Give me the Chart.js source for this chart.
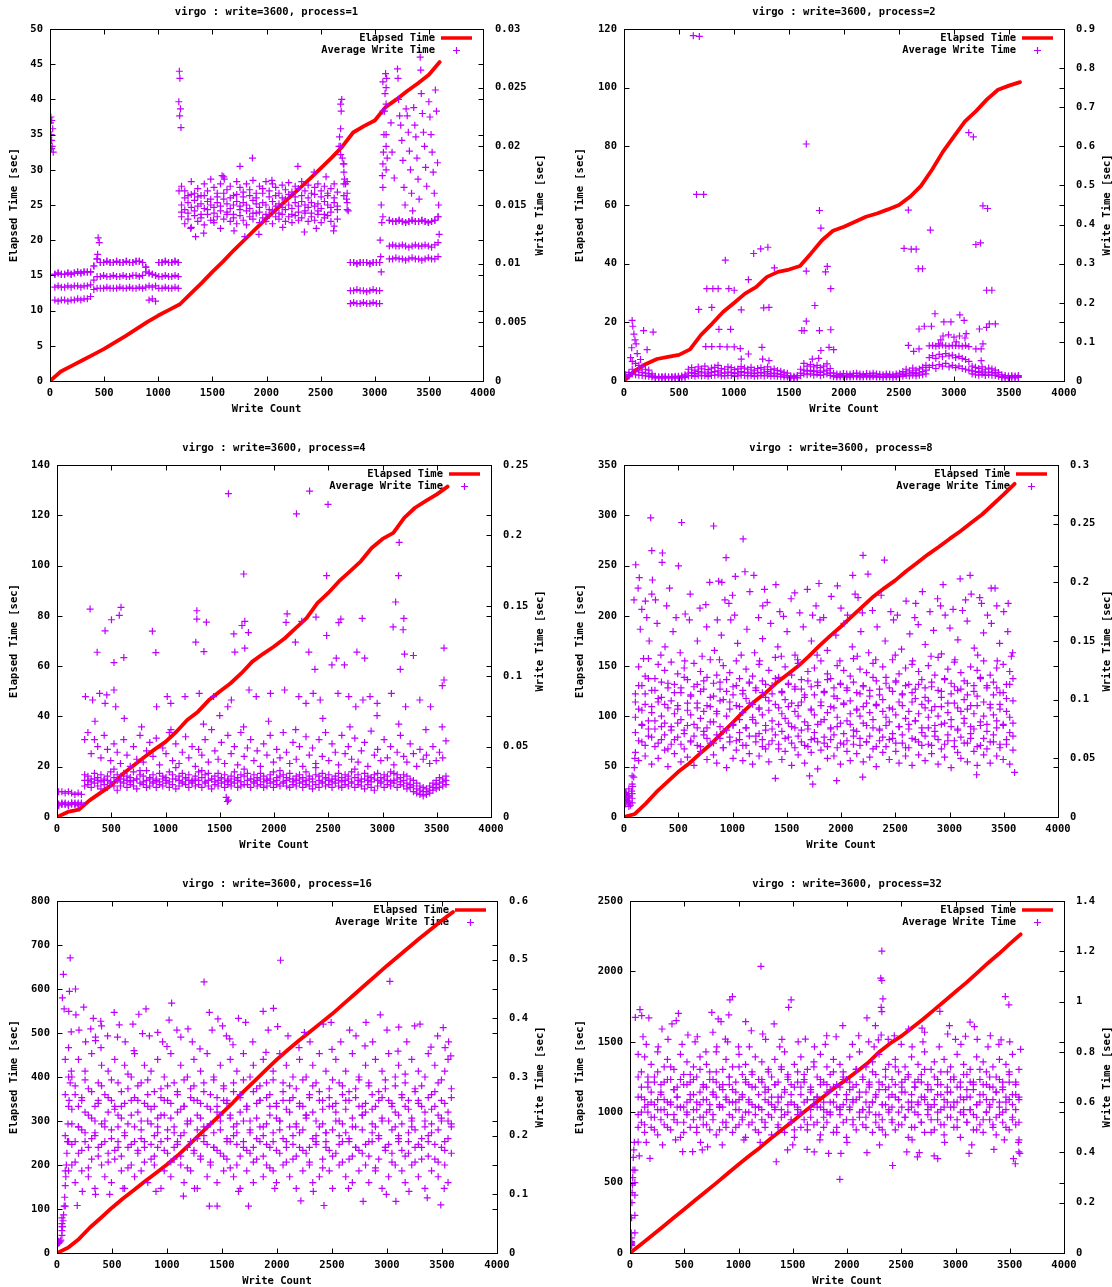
<!DOCTYPE html>
<html>
<head>
<meta charset="utf-8">
<title>virgo : write=3600</title>
<script src="https://cdn.jsdelivr.net/npm/chart.js@4.4.1/dist/chart.umd.min.js"></script>
<style>
  html, body { margin: 0; padding: 0; background: #fff; }
  #sheet { position: relative; width: 1112px; height: 1287px; overflow: hidden; background: #fff; }
  .panel { position: absolute; width: 556px; height: 436px; }
</style>
</head>
<body>
<div id="sheet">
  <div class="panel" style="left:0;top:-7px"><canvas id="chart1" width="556" height="436"></canvas></div>
  <div class="panel" style="left:556px;top:-7px"><canvas id="chart2" width="556" height="436"></canvas></div>
  <div class="panel" style="left:0;top:429px"><canvas id="chart3" width="556" height="436"></canvas></div>
  <div class="panel" style="left:556px;top:429px"><canvas id="chart4" width="556" height="436"></canvas></div>
  <div class="panel" style="left:0;top:865px"><canvas id="chart5" width="556" height="436"></canvas></div>
  <div class="panel" style="left:556px;top:865px"><canvas id="chart6" width="556" height="436"></canvas></div>
</div>
<script>
const elapsedCounts = [
  0, 100, 200, 300, 400, 500, 600, 700, 800, 900,
  1000, 1100, 1200, 1300, 1400, 1500, 1600, 1700, 1800, 1900,
  2000, 2100, 2200, 2300, 2400, 2500, 2600, 2700, 2800, 2900,
  3000, 3100, 3200, 3300, 3400, 3500, 3600,
];

// Write counts of the sampled write time points
const writeCounts = [
  15, 45, 75, 105, 135, 165, 195, 225, 255, 285,
  315, 345, 375, 405, 435, 465, 495, 525, 555, 585,
  615, 645, 675, 705, 735, 765, 795, 825, 855, 885,
  915, 945, 975, 1005, 1035, 1065, 1095, 1125, 1155, 1185,
  1215, 1245, 1275, 1305, 1335, 1365, 1395, 1425, 1455, 1485,
  1515, 1545, 1575, 1605, 1635, 1665, 1695, 1725, 1755, 1785,
  1815, 1845, 1875, 1905, 1935, 1965, 1995, 2025, 2055, 2085,
  2115, 2145, 2175, 2205, 2235, 2265, 2295, 2325, 2355, 2385,
  2415, 2445, 2475, 2505, 2535, 2565, 2595, 2625, 2655, 2685,
  2715, 2745, 2775, 2805, 2835, 2865, 2895, 2925, 2955, 2985,
  3015, 3045, 3075, 3105, 3135, 3165, 3195, 3225, 3255, 3285,
  3315, 3345, 3375, 3405, 3435, 3465, 3495, 3525, 3555, 3585,
];

// ---- process=1 ----
const p1Elapsed = [0, 1.35, 2.15, 2.95, 3.75, 4.56, 5.5, 6.4, 7.4, 8.4, 9.3, 10.1, 10.9, 12.4, 13.9, 15.5, 17.0, 18.6, 20.1, 21.6, 23.1, 24.5, 25.9, 27.3, 28.7, 30.2, 31.7, 33.3, 35.3, 36.2, 37.0, 38.9, 40.0, 41.2, 42.3, 43.5, 45.3];
const p1WriteA = [
  0.0222, 0.0091, 0.0092, 0.0091, 0.0091, 0.0092, 0.0091, 0.0092, 0.0093, 0.0092,
  0.0093, 0.0093, 0.0093, 0.0098, 0.0104, 0.0101, 0.0101, 0.0102, 0.0101, 0.0101,
  0.0102, 0.0101, 0.0101, 0.0102, 0.0101, 0.0101, 0.0102, 0.0102, 0.0101, 0.0097,
  0.0092, 0.0091, 0.0090, 0.0101, 0.0101, 0.0102, 0.0101, 0.0101, 0.0102, 0.0101,
  0.0166, 0.0162, 0.0158, 0.0170, 0.0160, 0.0164, 0.0158, 0.0168, 0.0162, 0.0172,
  0.0165, 0.0160, 0.0168, 0.0174, 0.0163, 0.0166, 0.0158, 0.0170, 0.0165, 0.0161,
  0.0168, 0.0163, 0.0171, 0.0160, 0.0166, 0.0164, 0.0170, 0.0162, 0.0168, 0.0165,
  0.0160, 0.0167, 0.0163, 0.0169, 0.0161, 0.0166, 0.0164, 0.0170, 0.0162, 0.0167,
  0.0160, 0.0165, 0.0168, 0.0162, 0.0166, 0.0160, 0.0164, 0.0168, 0.0161, 0.0236,
  0.0178, 0.0160, 0.0101, 0.0101, 0.0100, 0.0101, 0.0101, 0.0101, 0.0100, 0.0101,
  0.0101, 0.0101, 0.0255, 0.0236, 0.0137, 0.0136, 0.0136, 0.0137, 0.0136, 0.0135,
  0.0136, 0.0137, 0.0136, 0.0136, 0.0137, 0.0136, 0.0135, 0.0136, 0.0137, 0.0140,
];
const p1WriteB = [
  0.0205, 0.0080, 0.0081, 0.0080, 0.0080, 0.0081, 0.0080, 0.0081, 0.0081, 0.0080,
  0.0081, 0.0081, 0.0082, 0.0086, 0.0089, 0.0089, 0.0090, 0.0089, 0.0089, 0.0090,
  0.0089, 0.0089, 0.0090, 0.0089, 0.0089, 0.0090, 0.0090, 0.0089, 0.0090, 0.0093,
  0.0081, 0.0080, 0.0081, 0.0089, 0.0089, 0.0090, 0.0089, 0.0089, 0.0090, 0.0089,
  0.0150, 0.0146, 0.0152, 0.0148, 0.0154, 0.0149, 0.0151, 0.0147, 0.0153, 0.0150,
  0.0148, 0.0152, 0.0149, 0.0155, 0.0151, 0.0147, 0.0150, 0.0153, 0.0149, 0.0152,
  0.0150, 0.0147, 0.0154, 0.0151, 0.0148, 0.0152, 0.0150, 0.0146, 0.0153, 0.0149,
  0.0151, 0.0148, 0.0155, 0.0150, 0.0147, 0.0152, 0.0149, 0.0153, 0.0150, 0.0148,
  0.0152, 0.0149, 0.0151, 0.0147, 0.0153, 0.0150, 0.0148, 0.0152, 0.0149, 0.0200,
  0.0168, 0.0152, 0.0077, 0.0077, 0.0078, 0.0077, 0.0077, 0.0076, 0.0077, 0.0078,
  0.0077, 0.0077, 0.0185, 0.0210, 0.0115, 0.0116, 0.0115, 0.0115, 0.0116, 0.0115,
  0.0114, 0.0115, 0.0116, 0.0115, 0.0115, 0.0116, 0.0115, 0.0114, 0.0116, 0.0118,
];
const p1WriteC = [
  0.0198, 0.0069, 0.0068, 0.0069, 0.0069, 0.0068, 0.0069, 0.0069, 0.0070, 0.0069,
  0.0070, 0.0070, 0.0072, 0.0078, 0.0079, 0.0079, 0.0079, 0.0080, 0.0079, 0.0079,
  0.0079, 0.0080, 0.0079, 0.0079, 0.0080, 0.0079, 0.0079, 0.0080, 0.0079, 0.0080,
  0.0069, 0.0070, 0.0068, 0.0079, 0.0079, 0.0080, 0.0079, 0.0079, 0.0080, 0.0079,
  0.0140, 0.0134, 0.0138, 0.0131, 0.0141, 0.0136, 0.0139, 0.0133, 0.0142, 0.0137,
  0.0135, 0.0140, 0.0130, 0.0138, 0.0142, 0.0136, 0.0139, 0.0134, 0.0141, 0.0137,
  0.0133, 0.0140, 0.0138, 0.0143, 0.0135, 0.0139, 0.0136, 0.0141, 0.0134, 0.0140,
  0.0138, 0.0142, 0.0136, 0.0140, 0.0135, 0.0141, 0.0137, 0.0139, 0.0143, 0.0136,
  0.0140, 0.0137, 0.0142, 0.0135, 0.0139, 0.0141, 0.0136, 0.0132, 0.0138, 0.0193,
  0.0158, 0.0146, 0.0066, 0.0067, 0.0066, 0.0066, 0.0067, 0.0066, 0.0066, 0.0067,
  0.0066, 0.0066, 0.0140, 0.0180, 0.0104, 0.0104, 0.0105, 0.0104, 0.0104, 0.0103,
  0.0104, 0.0105, 0.0104, 0.0104, 0.0103, 0.0104, 0.0105, 0.0104, 0.0104, 0.0106,
];
const p1WriteD = [
  0.0222, 0.0091, 0.0092, 0.0091, 0.0091, 0.0092, 0.0091, 0.0092, 0.0093, 0.0092,
  0.0093, 0.0093, 0.0093, 0.0098, 0.0104, 0.0101, 0.0101, 0.0102, 0.0101, 0.0101,
  0.0102, 0.0101, 0.0101, 0.0102, 0.0101, 0.0101, 0.0102, 0.0102, 0.0101, 0.0097,
  0.0092, 0.0091, 0.0090, 0.0101, 0.0101, 0.0102, 0.0101, 0.0101, 0.0102, 0.0101,
  0.0144, 0.0156, 0.0143, 0.0159, 0.0145, 0.0157, 0.0142, 0.0158, 0.0146, 0.0155,
  0.0143, 0.0157, 0.0145, 0.0160, 0.0144, 0.0156, 0.0142, 0.0159, 0.0146, 0.0157,
  0.0145, 0.0158, 0.0143, 0.0156, 0.0144, 0.0160, 0.0142, 0.0157, 0.0145, 0.0158,
  0.0143, 0.0156, 0.0146, 0.0159, 0.0142, 0.0157, 0.0144, 0.0158, 0.0145, 0.0156,
  0.0143, 0.0159, 0.0145, 0.0157, 0.0142, 0.0158, 0.0144, 0.0156, 0.0146, 0.0215,
  0.0185, 0.0170, 0.0101, 0.0101, 0.0100, 0.0101, 0.0101, 0.0101, 0.0100, 0.0101,
  0.0101, 0.0101, 0.0230, 0.0250, 0.0137, 0.0136, 0.0136, 0.0137, 0.0136, 0.0135,
  0.0136, 0.0137, 0.0136, 0.0136, 0.0137, 0.0136, 0.0135, 0.0136, 0.0137, 0.0140,
];
const p1Extra = [
  [5, 0.0220], [10, 0.0210], [20, 0.0200], [25, 0.0215], [8, 0.0225], [30, 0.0195],
  [445, 0.0122], [455, 0.0118], [440, 0.0108],
  [1195, 0.0264], [1200, 0.0258], [1190, 0.0238], [1205, 0.0232], [1198, 0.0226], [1210, 0.0216], [1192, 0.0162],
  [1300, 0.0130], [1345, 0.0123], [1420, 0.0126], [1510, 0.0137], [1590, 0.0175], [1610, 0.0172], [1700, 0.0128],
  [1755, 0.0183], [1800, 0.0123], [1870, 0.0190], [1930, 0.0125], [2050, 0.0171], [2150, 0.0131], [2290, 0.0183],
  [2350, 0.0127], [2440, 0.0178], [2460, 0.0130], [2550, 0.0174], [2620, 0.0128],
  [2670, 0.0200], [2675, 0.0208], [2690, 0.0230], [2695, 0.0240], [2700, 0.0190], [2710, 0.0185], [2720, 0.0172],
  [2730, 0.0168], [2740, 0.0155], [2755, 0.0145],
  [3050, 0.0120], [3055, 0.0106], [3060, 0.0093], [3065, 0.0135], [3060, 0.0150], [3070, 0.0175], [3075, 0.0165],
  [3080, 0.0195], [3085, 0.0210], [3090, 0.0230], [3095, 0.0245], [3100, 0.0262], [3110, 0.0258], [3105, 0.0200], [3115, 0.0190],
  [3150, 0.0220], [3160, 0.0195], [3180, 0.0173], [3210, 0.0266], [3215, 0.0258], [3220, 0.0240], [3230, 0.0226],
  [3240, 0.0218], [3250, 0.0205], [3260, 0.0188], [3270, 0.0165], [3280, 0.0150], [3290, 0.0232], [3300, 0.0226],
  [3310, 0.0212], [3320, 0.0196], [3330, 0.0180], [3340, 0.0160], [3350, 0.0145], [3360, 0.0233], [3370, 0.0218],
  [3380, 0.0208], [3390, 0.0190], [3400, 0.0172], [3410, 0.0155], [3420, 0.0276], [3425, 0.0265], [3430, 0.0245],
  [3440, 0.0228], [3450, 0.0212], [3460, 0.0200], [3470, 0.0182], [3480, 0.0166], [3500, 0.0238], [3510, 0.0225],
  [3520, 0.0210], [3530, 0.0195], [3540, 0.0178], [3550, 0.0160], [3560, 0.0248], [3570, 0.0230], [3580, 0.0186],
  [3590, 0.0150], [3595, 0.0125],
];

// ---- process=2 ----
const p2Elapsed = [0, 3.5, 5.8, 7.5, 8.2, 8.9, 10.8, 15.7, 19.5, 23.5, 26.6, 29.8, 32.0, 35.5, 37.2, 38.0, 39.2, 43.5, 48.0, 51.2, 52.6, 54.3, 56.0, 57.1, 58.5, 60.0, 62.8, 66.5, 72.0, 78.2, 83.4, 88.5, 92.0, 96.0, 99.3, 100.7, 101.9];
const p2WriteA = [
  0.016, 0.022, 0.050, 0.045, 0.040, 0.036, 0.030, 0.028, 0.018, 0.012,
  0.011, 0.011, 0.012, 0.011, 0.011, 0.012, 0.012, 0.013, 0.016, 0.030,
  0.034, 0.028, 0.036, 0.031, 0.038, 0.029, 0.033, 0.035, 0.040, 0.032,
  0.030, 0.036, 0.034, 0.029, 0.031, 0.037, 0.033, 0.030, 0.035, 0.028,
  0.032, 0.034, 0.030, 0.036, 0.029, 0.031, 0.027, 0.025, 0.022, 0.020,
  0.013, 0.012, 0.014, 0.030, 0.045, 0.038, 0.042, 0.036, 0.040, 0.034,
  0.038, 0.044, 0.032, 0.020, 0.018, 0.017, 0.019, 0.018, 0.017, 0.019,
  0.020, 0.018, 0.017, 0.019, 0.018, 0.020, 0.018, 0.017, 0.016, 0.018,
  0.017, 0.016, 0.018, 0.020, 0.024, 0.030, 0.026, 0.033, 0.028, 0.031,
  0.035, 0.040, 0.060, 0.065, 0.058, 0.068, 0.062, 0.070, 0.064, 0.066,
  0.060, 0.063, 0.058, 0.055, 0.050, 0.038, 0.035, 0.032, 0.036, 0.030,
  0.033, 0.031, 0.028, 0.022, 0.016, 0.014, 0.013, 0.014, 0.013, 0.014,
];
const p2WriteB = [
  0.012, 0.016, 0.030, 0.024, 0.028, 0.022, 0.020, 0.018, 0.013, 0.009,
  0.009, 0.010, 0.009, 0.009, 0.010, 0.009, 0.010, 0.010, 0.012, 0.020,
  0.022, 0.019, 0.024, 0.021, 0.023, 0.018, 0.022, 0.024, 0.026, 0.021,
  0.020, 0.023, 0.022, 0.019, 0.021, 0.024, 0.022, 0.020, 0.023, 0.019,
  0.021, 0.022, 0.020, 0.024, 0.019, 0.020, 0.018, 0.017, 0.015, 0.014,
  0.010, 0.009, 0.010, 0.020, 0.028, 0.025, 0.027, 0.024, 0.026, 0.022,
  0.025, 0.028, 0.021, 0.014, 0.013, 0.013, 0.014, 0.013, 0.013, 0.014,
  0.014, 0.013, 0.013, 0.014, 0.013, 0.014, 0.013, 0.012, 0.012, 0.013,
  0.013, 0.012, 0.013, 0.015, 0.017, 0.020, 0.018, 0.022, 0.019, 0.021,
  0.024, 0.028, 0.090, 0.091, 0.089, 0.090, 0.092, 0.090, 0.089, 0.091,
  0.090, 0.090, 0.089, 0.091, 0.088, 0.026, 0.024, 0.022, 0.025, 0.021,
  0.023, 0.022, 0.020, 0.016, 0.011, 0.010, 0.010, 0.011, 0.010, 0.011,
];
const p2WriteC = [
  0.010, 0.012, 0.018, 0.016, 0.015, 0.014, 0.013, 0.012, 0.010, 0.008,
  0.008, 0.008, 0.008, 0.008, 0.008, 0.008, 0.008, 0.008, 0.009, 0.013,
  0.014, 0.012, 0.015, 0.013, 0.014, 0.012, 0.014, 0.015, 0.016, 0.013,
  0.013, 0.014, 0.014, 0.012, 0.013, 0.015, 0.014, 0.013, 0.014, 0.012,
  0.013, 0.014, 0.013, 0.015, 0.012, 0.013, 0.012, 0.011, 0.010, 0.010,
  0.008, 0.008, 0.008, 0.014, 0.018, 0.016, 0.018, 0.015, 0.017, 0.014,
  0.016, 0.018, 0.014, 0.011, 0.010, 0.010, 0.011, 0.010, 0.010, 0.011,
  0.011, 0.010, 0.010, 0.011, 0.010, 0.011, 0.010, 0.010, 0.009, 0.010,
  0.010, 0.009, 0.010, 0.011, 0.012, 0.014, 0.013, 0.015, 0.013, 0.015,
  0.016, 0.018, 0.035, 0.040, 0.032, 0.042, 0.038, 0.045, 0.036, 0.040,
  0.034, 0.038, 0.032, 0.030, 0.028, 0.018, 0.016, 0.015, 0.017, 0.014,
  0.016, 0.015, 0.014, 0.012, 0.009, 0.008, 0.008, 0.009, 0.008, 0.009,
];
const p2Extra = [
  [630, 0.883], [685, 0.881], [659, 0.477], [724, 0.477], [1657, 0.606], [1777, 0.436], [1790, 0.391],
  [921, 0.309], [1179, 0.326], [1243, 0.338], [1308, 0.342], [1131, 0.259], [1367, 0.289], [1657, 0.281],
  [1848, 0.293], [1832, 0.279], [1880, 0.236], [753, 0.236], [808, 0.236], [856, 0.236], [953, 0.236],
  [1002, 0.232], [679, 0.183], [798, 0.188], [1066, 0.182], [1270, 0.187], [1318, 0.188], [1735, 0.193],
  [1657, 0.153], [74, 0.155], [1616, 0.129], [1638, 0.129], [1777, 0.129], [1880, 0.131], [863, 0.132],
  [969, 0.132], [178, 0.129], [265, 0.125], [210, 0.080], [2546, 0.339], [2611, 0.337], [2656, 0.337],
  [2675, 0.287], [2714, 0.287], [2585, 0.437], [2785, 0.386], [3263, 0.448], [3305, 0.441], [3199, 0.349],
  [3241, 0.353], [3296, 0.232], [3344, 0.232], [3134, 0.635], [3176, 0.624], [2827, 0.172], [2908, 0.151],
  [2972, 0.151], [3053, 0.169], [3092, 0.155], [2682, 0.133], [2730, 0.140], [2795, 0.140], [3231, 0.133],
  [3296, 0.137], [3321, 0.146], [3376, 0.146], [2585, 0.091], [2633, 0.076], [2682, 0.082], [3263, 0.095],
  [3199, 0.082], [3247, 0.082], [3111, 0.121], [743, 0.088], [798, 0.088], [872, 0.088], [937, 0.087],
  [1002, 0.087], [1057, 0.083], [1131, 0.069], [1066, 0.056], [1254, 0.086], [1260, 0.056], [1318, 0.052],
  [1712, 0.056], [1770, 0.058], [1864, 0.086], [1906, 0.080], [1790, 0.078], [3247, 0.052], [80, 0.140],
  [90, 0.120], [100, 0.105], [110, 0.095], [70, 0.085], [60, 0.060], [120, 0.070], [150, 0.055],
  [2900, 0.115], [2950, 0.118], [3000, 0.112], [3050, 0.115], [2880, 0.105], [3100, 0.110], [2860, 0.095], [3020, 0.100],
];

// ---- process=4 ----
const p3Elapsed = [0, 2.0, 2.9, 6.6, 9.6, 12.6, 16.9, 20.3, 23.7, 26.9, 29.9, 33.9, 38.6, 41.9, 46.5, 49.9, 53.2, 57.2, 61.8, 64.9, 67.8, 71.1, 75.1, 79.1, 85.1, 89.1, 93.8, 97.7, 101.7, 107.0, 110.6, 113.0, 119.0, 123.0, 125.7, 128.3, 131.4];
const p3WriteA = [
  0.018, 0.018, 0.017, 0.018, 0.017, 0.016, 0.017, 0.016, 0.055, 0.060,
  0.045, 0.055, 0.050, 0.042, 0.058, 0.048, 0.040, 0.052, 0.046, 0.038,
  0.055, 0.044, 0.036, 0.050, 0.041, 0.058, 0.039, 0.047, 0.053, 0.043,
  0.056, 0.037, 0.049, 0.045, 0.060, 0.040, 0.052, 0.038, 0.046, 0.057,
  0.042, 0.050, 0.036, 0.048, 0.044, 0.055, 0.039, 0.062, 0.047, 0.041,
  0.053, 0.038, 0.058, 0.045, 0.050, 0.037, 0.060, 0.043, 0.049, 0.055,
  0.040, 0.047, 0.036, 0.052, 0.044, 0.058, 0.039, 0.048, 0.042, 0.060,
  0.046, 0.038, 0.053, 0.041, 0.050, 0.036, 0.057, 0.044, 0.049, 0.038,
  0.055, 0.043, 0.060, 0.040, 0.052, 0.046, 0.037, 0.058, 0.045, 0.050,
  0.041, 0.056, 0.039, 0.047, 0.053, 0.036, 0.061, 0.044, 0.048, 0.040,
  0.055, 0.042, 0.050, 0.037, 0.046, 0.058, 0.043, 0.039, 0.052, 0.045,
  0.036, 0.048, 0.041, 0.044, 0.038, 0.050, 0.040, 0.046, 0.042, 0.054,
];
const p3WriteB = [
  0.009, 0.009, 0.010, 0.009, 0.010, 0.010, 0.009, 0.010, 0.030, 0.029,
  0.027, 0.031, 0.028, 0.030, 0.026, 0.029, 0.032, 0.028, 0.030, 0.027,
  0.031, 0.029, 0.028, 0.032, 0.027, 0.030, 0.029, 0.033, 0.028, 0.030,
  0.027, 0.031, 0.029, 0.028, 0.032, 0.030, 0.027, 0.029, 0.031, 0.028,
  0.030, 0.026, 0.029, 0.032, 0.028, 0.030, 0.031, 0.027, 0.029, 0.031,
  0.028, 0.030, 0.027, 0.029, 0.032, 0.028, 0.030, 0.029, 0.031, 0.027,
  0.030, 0.028, 0.031, 0.029, 0.027, 0.030, 0.032, 0.028, 0.029, 0.030,
  0.028, 0.031, 0.027, 0.029, 0.030, 0.028, 0.032, 0.029, 0.027, 0.030,
  0.029, 0.031, 0.028, 0.030, 0.027, 0.029, 0.031, 0.028, 0.030, 0.029,
  0.032, 0.028, 0.030, 0.027, 0.031, 0.029, 0.028, 0.030, 0.031, 0.028,
  0.030, 0.029, 0.032, 0.031, 0.030, 0.028, 0.030, 0.029, 0.027, 0.026,
  0.024, 0.022, 0.021, 0.020, 0.022, 0.024, 0.026, 0.028, 0.027, 0.029,
];
const p3WriteC = [
  0.008, 0.009, 0.009, 0.008, 0.009, 0.009, 0.008, 0.009, 0.022, 0.023,
  0.021, 0.024, 0.022, 0.020, 0.023, 0.021, 0.024, 0.022, 0.019, 0.022,
  0.024, 0.021, 0.023, 0.022, 0.020, 0.024, 0.023, 0.021, 0.022, 0.024,
  0.021, 0.023, 0.022, 0.024, 0.021, 0.023, 0.020, 0.022, 0.024, 0.023,
  0.021, 0.024, 0.022, 0.023, 0.021, 0.024, 0.022, 0.020, 0.023, 0.022,
  0.024, 0.021, 0.023, 0.022, 0.024, 0.021, 0.022, 0.023, 0.023, 0.021,
  0.024, 0.022, 0.023, 0.021, 0.022, 0.024, 0.021, 0.023, 0.022, 0.024,
  0.022, 0.021, 0.023, 0.022, 0.024, 0.021, 0.023, 0.022, 0.020, 0.023,
  0.021, 0.024, 0.022, 0.023, 0.021, 0.024, 0.022, 0.021, 0.023, 0.022,
  0.024, 0.021, 0.023, 0.022, 0.020, 0.023, 0.021, 0.019, 0.022, 0.024,
  0.021, 0.023, 0.022, 0.024, 0.021, 0.023, 0.022, 0.020, 0.021, 0.018,
  0.017, 0.016, 0.015, 0.016, 0.017, 0.019, 0.020, 0.021, 0.022, 0.023,
];
const p3WriteD = [
  0.009, 0.010, 0.009, 0.009, 0.010, 0.009, 0.010, 0.009, 0.026, 0.026,
  0.025, 0.027, 0.026, 0.025, 0.027, 0.026, 0.025, 0.034, 0.026, 0.025,
  0.027, 0.026, 0.025, 0.026, 0.027, 0.033, 0.025, 0.026, 0.027, 0.025,
  0.026, 0.025, 0.027, 0.026, 0.025, 0.027, 0.035, 0.026, 0.025, 0.027,
  0.026, 0.025, 0.027, 0.026, 0.033, 0.025, 0.026, 0.027, 0.025, 0.026,
  0.027, 0.025, 0.026, 0.025, 0.027, 0.026, 0.025, 0.034, 0.026, 0.027,
  0.025, 0.026, 0.027, 0.025, 0.026, 0.027, 0.025, 0.026, 0.033, 0.025,
  0.026, 0.027, 0.025, 0.026, 0.027, 0.025, 0.026, 0.027, 0.025, 0.035,
  0.026, 0.025, 0.027, 0.026, 0.025, 0.027, 0.026, 0.025, 0.026, 0.027,
  0.025, 0.034, 0.026, 0.025, 0.027, 0.026, 0.025, 0.027, 0.026, 0.025,
  0.027, 0.026, 0.025, 0.026, 0.027, 0.025, 0.026, 0.024, 0.023, 0.022,
  0.020, 0.019, 0.018, 0.018, 0.019, 0.021, 0.023, 0.024, 0.025, 0.026,
];
const p3Extra = [
  [1580, 0.2296], [2328, 0.2315], [2498, 0.222], [2207, 0.2153], [3154, 0.195], [1721, 0.1726], [2485, 0.1714],
  [3148, 0.1714], [305, 0.1477], [590, 0.1489], [574, 0.1432], [502, 0.1401], [443, 0.1322], [1289, 0.1465],
  [1289, 0.1406], [1377, 0.1384], [1731, 0.139], [1705, 0.136], [1764, 0.131], [1630, 0.130], [2121, 0.1443],
  [2111, 0.1382], [2256, 0.139], [2387, 0.142], [2616, 0.1406], [2597, 0.138], [2813, 0.141], [3098, 0.135],
  [3197, 0.141], [3190, 0.133], [3121, 0.1527], [879, 0.132], [3567, 0.120],
  [370, 0.117], [525, 0.1097], [616, 0.1132], [911, 0.1168], [1279, 0.1242], [1354, 0.1175], [1639, 0.1171],
  [1731, 0.1199], [2197, 0.1242], [2321, 0.1171], [2485, 0.1289], [2534, 0.108], [2764, 0.1171], [2836, 0.1128],
  [3203, 0.1157], [3285, 0.1147], [2649, 0.108], [2574, 0.1128], [3164, 0.1049], [2377, 0.1049], [3567, 0.0973], [3551, 0.0933],
  [262, 0.0855], [328, 0.0831], [393, 0.0878], [459, 0.0867], [443, 0.0807], [525, 0.0902], [541, 0.0783],
  [1016, 0.0855], [1049, 0.0807], [918, 0.0783], [1180, 0.0855], [1311, 0.0878], [1443, 0.0855], [1574, 0.0783],
  [1607, 0.0831], [1770, 0.0902], [1836, 0.0855], [1967, 0.0878], [2098, 0.0902], [2229, 0.0855], [2295, 0.0807],
  [2361, 0.0878], [2426, 0.0831], [2590, 0.0878], [2689, 0.0855], [2754, 0.0783], [2820, 0.0831], [2885, 0.0855],
  [2951, 0.0807], [3082, 0.0878], [3213, 0.0783], [3344, 0.0831], [3443, 0.0783],
  [350, 0.068], [620, 0.070], [780, 0.064], [1050, 0.062], [1350, 0.066], [1500, 0.072], [1720, 0.064],
  [1950, 0.068], [2200, 0.062], [2450, 0.070], [2700, 0.064], [2950, 0.072], [3150, 0.066], [3400, 0.062], [3550, 0.064],
  [1570, 0.011], [1580, 0.012], [1560, 0.014],
];

// ---- process=8 ----
const p4Elapsed = [0, 3.0, 13.3, 24.9, 34.9, 44.9, 53.2, 63.1, 72.4, 83.1, 93.7, 104.7, 114.7, 123.0, 132.9, 141.2, 149.6, 159.5, 170.2, 180.1, 189.4, 199.4, 209.4, 219.3, 227.6, 235.3, 244.3, 252.6, 260.9, 268.5, 276.5, 284.1, 292.5, 300.8, 310.7, 320.7, 331.3];
const p4WriteA = [
  0.021, 0.018, 0.020,
  0.105, 0.128, 0.112, 0.120, 0.135, 0.108, 0.118, 0.130, 0.102, 0.125,
  0.114, 0.132, 0.106, 0.122, 0.110, 0.127, 0.117, 0.104, 0.131, 0.113,
  0.124, 0.109, 0.119, 0.134, 0.103, 0.121, 0.115, 0.129, 0.107, 0.123,
  0.111, 0.133, 0.118, 0.105, 0.126, 0.114, 0.120, 0.108, 0.130, 0.116,
  0.102, 0.125, 0.112, 0.136, 0.119, 0.106, 0.128, 0.113, 0.121, 0.109,
  0.131, 0.117, 0.104, 0.124, 0.111, 0.127, 0.115, 0.133, 0.107, 0.122,
  0.118, 0.103, 0.129, 0.114, 0.125, 0.110, 0.120, 0.135, 0.106, 0.126,
  0.112, 0.123, 0.108, 0.131, 0.116, 0.104, 0.128, 0.119, 0.110, 0.134,
  0.115, 0.122, 0.105, 0.127, 0.113, 0.130, 0.109, 0.124, 0.117, 0.102,
  0.129, 0.111, 0.121, 0.136, 0.107, 0.118, 0.126, 0.114, 0.132, 0.108,
  0.123, 0.116, 0.104, 0.128, 0.112, 0.125, 0.119, 0.133, 0.110, 0.121,
  0.115, 0.127, 0.106, 0.130, 0.113, 0.124, 0.118,
];
const p4WriteB = [
  0.015, 0.013, 0.016,
  0.085, 0.092, 0.078, 0.096, 0.082, 0.089, 0.075, 0.098, 0.086, 0.080,
  0.093, 0.077, 0.088, 0.095, 0.083, 0.074, 0.091, 0.087, 0.079, 0.097,
  0.084, 0.090, 0.076, 0.094, 0.081, 0.088, 0.099, 0.073, 0.086, 0.092,
  0.078, 0.095, 0.083, 0.089, 0.076, 0.097, 0.085, 0.080, 0.093, 0.087,
  0.074, 0.091, 0.082, 0.096, 0.079, 0.088, 0.084, 0.094, 0.077, 0.090,
  0.086, 0.098, 0.081, 0.075, 0.092, 0.087, 0.079, 0.095, 0.083, 0.089,
  0.076, 0.093, 0.085, 0.080, 0.097, 0.082, 0.088, 0.074, 0.091, 0.086,
  0.094, 0.078, 0.089, 0.083, 0.096, 0.075, 0.090, 0.085, 0.081, 0.092,
  0.087, 0.077, 0.095, 0.084, 0.079, 0.098, 0.082, 0.088, 0.076, 0.093,
  0.085, 0.091, 0.078, 0.086, 0.094, 0.080, 0.089, 0.083, 0.097, 0.075,
  0.090, 0.084, 0.092, 0.077, 0.088, 0.095, 0.081, 0.086, 0.079, 0.093,
  0.087, 0.082, 0.096, 0.078, 0.090, 0.085, 0.080,
];
const p4WriteC = [
  0.011, 0.009, 0.012,
  0.055, 0.048, 0.064, 0.052, 0.069, 0.045, 0.060, 0.050, 0.066, 0.057,
  0.043, 0.062, 0.054, 0.068, 0.047, 0.058, 0.051, 0.065, 0.044, 0.061,
  0.056, 0.070, 0.049, 0.063, 0.053, 0.046, 0.067, 0.059, 0.042, 0.064,
  0.050, 0.057, 0.066, 0.048, 0.061, 0.054, 0.045, 0.069, 0.052, 0.060,
  0.058, 0.047, 0.065, 0.033, 0.062, 0.049, 0.056, 0.068, 0.044, 0.059,
  0.053, 0.064, 0.046, 0.060, 0.055, 0.067, 0.041, 0.057, 0.063, 0.050,
  0.066, 0.052, 0.059, 0.045, 0.062, 0.056, 0.048, 0.069, 0.054, 0.061,
  0.047, 0.064, 0.051, 0.058, 0.043, 0.065, 0.055, 0.060, 0.049, 0.067,
  0.056, 0.046, 0.063, 0.052, 0.059, 0.044, 0.066, 0.053, 0.061, 0.048,
  0.062, 0.054, 0.069, 0.045, 0.058, 0.051, 0.065, 0.042, 0.060, 0.055,
  0.050, 0.063, 0.047, 0.067, 0.056, 0.044, 0.061, 0.053, 0.058, 0.046,
  0.064, 0.052, 0.059, 0.049, 0.062, 0.045, 0.057,
];
const p4WriteD = [
  0.019, 0.024, 0.035,
  0.098, 0.112, 0.091, 0.105, 0.118, 0.094, 0.108, 0.101, 0.115, 0.096,
  0.110, 0.099, 0.113, 0.092, 0.106, 0.119, 0.097, 0.103, 0.111, 0.093,
  0.107, 0.116, 0.095, 0.102, 0.114, 0.090, 0.109, 0.100, 0.117, 0.098,
  0.104, 0.112, 0.094, 0.108, 0.101, 0.115, 0.096, 0.110, 0.092, 0.106,
  0.113, 0.099, 0.105, 0.118, 0.093, 0.107, 0.100, 0.114, 0.097, 0.111,
  0.095, 0.109, 0.102, 0.116, 0.091, 0.104, 0.112, 0.098, 0.106, 0.117,
  0.094, 0.110, 0.101, 0.113, 0.096, 0.108, 0.099, 0.115, 0.092, 0.105,
  0.111, 0.097, 0.103, 0.119, 0.095, 0.109, 0.100, 0.114, 0.093, 0.107,
  0.116, 0.098, 0.104, 0.112, 0.090, 0.106, 0.101, 0.113, 0.096, 0.110,
  0.099, 0.115, 0.094, 0.108, 0.102, 0.117, 0.097, 0.105, 0.111, 0.093,
  0.109, 0.100, 0.114, 0.095, 0.107, 0.103, 0.118, 0.098, 0.112, 0.096,
  0.104, 0.110, 0.092, 0.106, 0.101, 0.113, 0.099,
];
const p4WriteE = [
  0.013, 0.017, 0.028,
  0.072, 0.065, 0.079, 0.061, 0.075, 0.068, 0.082, 0.063, 0.077, 0.070,
  0.058, 0.074, 0.066, 0.080, 0.062, 0.071, 0.078, 0.064, 0.069, 0.076,
  0.060, 0.073, 0.067, 0.081, 0.063, 0.070, 0.077, 0.059, 0.074, 0.068,
  0.079, 0.065, 0.072, 0.061, 0.076, 0.069, 0.083, 0.064, 0.071, 0.066,
  0.078, 0.062, 0.075, 0.070, 0.058, 0.073, 0.067, 0.080, 0.063, 0.076,
  0.069, 0.074, 0.061, 0.078, 0.066, 0.072, 0.064, 0.081, 0.068, 0.060,
  0.075, 0.070, 0.077, 0.063, 0.071, 0.065, 0.079, 0.062, 0.073, 0.067,
  0.080, 0.064, 0.069, 0.076, 0.060, 0.074, 0.068, 0.078, 0.066, 0.071,
  0.063, 0.077, 0.070, 0.059, 0.075, 0.067, 0.082, 0.064, 0.072, 0.069,
  0.076, 0.061, 0.073, 0.066, 0.079, 0.062, 0.070, 0.077, 0.065, 0.074,
  0.068, 0.080, 0.063, 0.071, 0.075, 0.060, 0.078, 0.067, 0.073, 0.064,
  0.070, 0.076, 0.062, 0.079, 0.066, 0.072, 0.069,
];
const p4Extra = [
  [246, 0.255], [531, 0.251], [826, 0.248], [1098, 0.237], [256, 0.227], [354, 0.225], [941, 0.221],
  [2203, 0.223], [2400, 0.219], [108, 0.215], [351, 0.217], [502, 0.214], [1115, 0.209], [1026, 0.205],
  [1000, 0.189], [1197, 0.206], [141, 0.204], [262, 0.202], [256, 0.190], [872, 0.201], [902, 0.200],
  [1295, 0.194], [1574, 0.191], [1797, 0.199], [1967, 0.197], [2108, 0.206], [2157, 0.187], [2249, 0.207],
  [2941, 0.198], [3098, 0.203], [3190, 0.206], [3279, 0.187], [3384, 0.195],
  [92, 0.185], [164, 0.177], [197, 0.184], [393, 0.180], [564, 0.173], [754, 0.181], [967, 0.182],
  [1279, 0.180], [1436, 0.175], [1738, 0.172], [2000, 0.178], [2197, 0.174], [2459, 0.175], [2689, 0.182],
  [2918, 0.180], [3033, 0.177], [3148, 0.185], [3295, 0.182], [3436, 0.180], [3541, 0.182],
  [150, 0.160], [232, 0.150], [305, 0.165], [378, 0.145], [452, 0.158], [518, 0.140], [603, 0.168],
  [676, 0.150], [762, 0.162], [834, 0.142], [897, 0.155], [984, 0.168], [1047, 0.148], [1133, 0.160],
  [1204, 0.140], [1277, 0.152], [1352, 0.165], [1418, 0.145], [1503, 0.158], [1576, 0.138], [1652, 0.162],
  [1727, 0.150], [1806, 0.168], [1874, 0.142], [1953, 0.155], [2027, 0.165], [2104, 0.145], [2183, 0.158],
  [2255, 0.140], [2333, 0.162], [2407, 0.150], [2484, 0.168], [2558, 0.143], [2634, 0.156], [2712, 0.164],
  [2776, 0.147], [2853, 0.159], [2926, 0.139], [3004, 0.161], [3077, 0.151], [3163, 0.167], [3228, 0.144],
  [3314, 0.157], [3386, 0.165], [3462, 0.148], [3537, 0.158], [3582, 0.140],
  [130, 0.195], [210, 0.170], [290, 0.185], [420, 0.195], [480, 0.170], [610, 0.190], [700, 0.178],
  [790, 0.200], [860, 0.168], [930, 0.185], [1020, 0.172], [1160, 0.192], [1240, 0.170], [1320, 0.183],
  [1400, 0.198], [1470, 0.171], [1540, 0.186], [1620, 0.174], [1690, 0.194], [1770, 0.180], [1840, 0.170],
  [1910, 0.188], [2060, 0.172], [2130, 0.190], [2290, 0.176], [2370, 0.189], [2520, 0.172], [2600, 0.184],
  [2680, 0.170], [2750, 0.192], [2820, 0.175], [2890, 0.186], [2960, 0.172], [3120, 0.176], [3200, 0.190],
  [3350, 0.172], [3420, 0.195], [3500, 0.175],
  [180, 0.135], [340, 0.138], [560, 0.133], [720, 0.137], [880, 0.134], [1080, 0.138], [1250, 0.133],
  [1450, 0.137], [1600, 0.134], [1780, 0.138], [1990, 0.133], [2150, 0.137], [2320, 0.134], [2500, 0.138],
  [2660, 0.133], [2830, 0.137], [3050, 0.134], [3260, 0.138], [3440, 0.133], [3570, 0.137],
  [1740, 0.028], [1960, 0.031], [2200, 0.034], [1710, 0.035], [3250, 0.036], [3600, 0.038],
  [10, 0.016], [20, 0.020], [30, 0.014], [40, 0.018], [50, 0.012], [60, 0.010], [70, 0.022],
  [80, 0.026], [90, 0.034], [95, 0.042], [100, 0.050],
];

// ---- process=16 ----
const p5Elapsed = [0, 12, 32, 58, 80, 103, 124, 143, 163, 182, 201, 222, 246, 270, 294, 318, 342, 368, 392, 416, 440, 462, 483, 503, 523, 543, 565, 587, 609, 631, 653, 674, 695, 716, 736, 756, 775];
const p5WriteA = [
  0.019, 0.060, 0.33, 0.35,
  0.30, 0.27, 0.33, 0.26, 0.31, 0.28, 0.34, 0.25, 0.29, 0.32,
  0.27, 0.31, 0.26, 0.33, 0.29, 0.25, 0.32, 0.28, 0.30, 0.34,
  0.26, 0.29, 0.32, 0.27, 0.31, 0.25, 0.33, 0.28, 0.30, 0.26,
  0.34, 0.29, 0.27, 0.32, 0.25, 0.30, 0.28, 0.33, 0.26, 0.31,
  0.29, 0.34, 0.27, 0.30, 0.25, 0.32, 0.28, 0.26, 0.33, 0.29,
  0.31, 0.27, 0.34, 0.25, 0.30, 0.32, 0.28, 0.26, 0.33, 0.29,
  0.27, 0.31, 0.25, 0.34, 0.29, 0.32, 0.26, 0.30, 0.28, 0.33,
  0.25, 0.30, 0.27, 0.32, 0.29, 0.34, 0.26, 0.31, 0.28, 0.25,
  0.33, 0.29, 0.27, 0.31, 0.26, 0.34, 0.28, 0.30, 0.25, 0.32,
  0.29, 0.27, 0.33, 0.26, 0.31, 0.28, 0.34, 0.25, 0.30, 0.32,
  0.27, 0.29, 0.26, 0.33, 0.28, 0.31, 0.25, 0.30, 0.34, 0.27,
  0.32, 0.29, 0.26, 0.31, 0.33, 0.28,
];
const p5WriteB = [
  0.018, 0.045, 0.20, 0.25,
  0.22, 0.19, 0.25, 0.21, 0.24, 0.18, 0.23, 0.20, 0.26, 0.22,
  0.19, 0.24, 0.21, 0.25, 0.18, 0.23, 0.20, 0.22, 0.26, 0.19,
  0.24, 0.21, 0.18, 0.25, 0.22, 0.20, 0.23, 0.19, 0.26, 0.21,
  0.23, 0.18, 0.24, 0.20, 0.25, 0.22, 0.19, 0.26, 0.21, 0.23,
  0.20, 0.25, 0.22, 0.18, 0.24, 0.21, 0.26, 0.19, 0.23, 0.20,
  0.22, 0.24, 0.19, 0.25, 0.21, 0.18, 0.23, 0.26, 0.20, 0.22,
  0.25, 0.19, 0.23, 0.21, 0.26, 0.18, 0.24, 0.20, 0.22, 0.25,
  0.21, 0.23, 0.18, 0.24, 0.20, 0.26, 0.22, 0.19, 0.25, 0.21,
  0.24, 0.20, 0.22, 0.26, 0.19, 0.23, 0.18, 0.25, 0.21, 0.24,
  0.19, 0.22, 0.25, 0.20, 0.23, 0.18, 0.26, 0.21, 0.24, 0.20,
  0.22, 0.25, 0.19, 0.23, 0.21, 0.26, 0.18, 0.24, 0.20, 0.22,
  0.25, 0.21, 0.23, 0.19, 0.24, 0.22,
];
const p5WriteC = [
  0.017, 0.030, 0.08, 0.14,
  0.15, 0.12, 0.17, 0.14, 0.19, 0.13, 0.16, 0.11, 0.18, 0.15,
  0.13, 0.17, 0.12, 0.16, 0.19, 0.14, 0.11, 0.18, 0.15, 0.13,
  0.17, 0.14, 0.19, 0.12, 0.16, 0.15, 0.18, 0.11, 0.14, 0.17,
  0.13, 0.16, 0.19, 0.15, 0.12, 0.18, 0.14, 0.17, 0.11, 0.16,
  0.19, 0.13, 0.15, 0.18, 0.12, 0.17, 0.14, 0.16, 0.19, 0.13,
  0.15, 0.11, 0.18, 0.14, 0.17, 0.12, 0.16, 0.19, 0.13, 0.15,
  0.18, 0.14, 0.12, 0.17, 0.15, 0.19, 0.13, 0.16, 0.11, 0.18,
  0.14, 0.17, 0.15, 0.12, 0.19, 0.13, 0.16, 0.18, 0.14, 0.11,
  0.17, 0.15, 0.19, 0.13, 0.16, 0.12, 0.18, 0.14, 0.17, 0.15,
  0.12, 0.19, 0.14, 0.16, 0.11, 0.18, 0.13, 0.17, 0.15, 0.19,
  0.14, 0.12, 0.17, 0.15, 0.18, 0.13, 0.16, 0.11, 0.19, 0.14,
  0.16, 0.13, 0.18, 0.15, 0.12, 0.17,
];
const p5WriteD = [
  0.018, 0.050, 0.27, 0.30,
  0.245, 0.285, 0.215, 0.265, 0.295, 0.235, 0.275, 0.205, 0.255, 0.285,
  0.225, 0.265, 0.295, 0.245, 0.215, 0.275, 0.255, 0.305, 0.235, 0.265,
  0.285, 0.225, 0.255, 0.295, 0.245, 0.275, 0.215, 0.265, 0.235, 0.285,
  0.255, 0.205, 0.275, 0.245, 0.295, 0.225, 0.265, 0.285, 0.235, 0.255,
  0.275, 0.215, 0.245, 0.295, 0.265, 0.225, 0.285, 0.255, 0.235, 0.275,
  0.205, 0.265, 0.295, 0.245, 0.225, 0.275, 0.255, 0.285, 0.215, 0.265,
  0.235, 0.295, 0.255, 0.225, 0.275, 0.245, 0.285, 0.265, 0.215, 0.255,
  0.295, 0.235, 0.265, 0.285, 0.225, 0.275, 0.245, 0.205, 0.265, 0.295,
  0.255, 0.225, 0.285, 0.245, 0.275, 0.215, 0.265, 0.295, 0.235, 0.255,
  0.285, 0.245, 0.215, 0.275, 0.265, 0.295, 0.225, 0.255, 0.285, 0.235,
  0.265, 0.305, 0.245, 0.215, 0.275, 0.255, 0.285, 0.225, 0.265, 0.245,
  0.275, 0.235, 0.295, 0.255, 0.225, 0.265,
];
const p5WriteE = [
  0.020, 0.038, 0.14, 0.19,
  0.185, 0.155, 0.215, 0.175, 0.205, 0.145, 0.195, 0.225, 0.165, 0.185,
  0.215, 0.155, 0.195, 0.175, 0.235, 0.165, 0.205, 0.145, 0.185, 0.215,
  0.175, 0.195, 0.155, 0.225, 0.185, 0.165, 0.205, 0.235, 0.175, 0.195,
  0.155, 0.215, 0.185, 0.165, 0.205, 0.145, 0.225, 0.175, 0.195, 0.165,
  0.215, 0.185, 0.155, 0.205, 0.175, 0.235, 0.165, 0.195, 0.145, 0.215,
  0.185, 0.165, 0.225, 0.175, 0.205, 0.155, 0.195, 0.215, 0.165, 0.185,
  0.145, 0.205, 0.175, 0.225, 0.195, 0.155, 0.215, 0.185, 0.165, 0.205,
  0.175, 0.235, 0.155, 0.195, 0.185, 0.215, 0.145, 0.205, 0.175, 0.165,
  0.225, 0.185, 0.155, 0.205, 0.195, 0.165, 0.215, 0.175, 0.235, 0.185,
  0.165, 0.205, 0.145, 0.195, 0.225, 0.175, 0.185, 0.155, 0.215, 0.195,
  0.175, 0.165, 0.205, 0.225, 0.155, 0.185, 0.195, 0.215, 0.165, 0.205,
  0.185, 0.155, 0.225, 0.175, 0.195, 0.215,
];
const p5Extra = [
  [120, 0.503], [58, 0.475], [2032, 0.499], [3026, 0.463], [1337, 0.462],
  [49, 0.435], [113, 0.446], [168, 0.450], [65, 0.416], [107, 0.412], [172, 0.406], [243, 0.419],
  [1042, 0.426], [1385, 0.410], [1874, 0.412], [1968, 0.417], [2939, 0.406], [809, 0.416], [744, 0.407],
  [129, 0.377], [398, 0.395], [307, 0.382], [350, 0.368], [405, 0.387], [566, 0.389], [550, 0.368],
  [350, 0.362], [777, 0.374], [916, 0.376], [1019, 0.397], [1126, 0.368], [1191, 0.382], [1463, 0.399],
  [1505, 0.387], [1570, 0.365], [1715, 0.393], [2006, 0.386], [2249, 0.376], [2492, 0.393], [2718, 0.370],
  [2809, 0.393], [3107, 0.385], [3252, 0.387], [3511, 0.384], [3528, 0.350],
  [1456, 0.080], [1385, 0.080], [1741, 0.080], [2427, 0.081], [3489, 0.082], [184, 0.081], [350, 0.100],
  [2783, 0.088], [2217, 0.089], [3081, 0.088], [2994, 0.100], [3366, 0.094], [1149, 0.097], [479, 0.100],
  [20, 0.018], [30, 0.020], [10, 0.017], [35, 0.022], [50, 0.045], [55, 0.055], [60, 0.065], [65, 0.080],
  [70, 0.095], [75, 0.115], [80, 0.130], [85, 0.150], [90, 0.170], [95, 0.190], [100, 0.22], [110, 0.26],
  [120, 0.29], [130, 0.31],
  [400, 0.350], [700, 0.345], [1000, 0.352], [1300, 0.348], [1600, 0.355], [1900, 0.342], [2200, 0.350],
  [2500, 0.347], [2800, 0.353], [3100, 0.344], [3400, 0.351], [3580, 0.336],
  [200, 0.38], [260, 0.36], [330, 0.40], [460, 0.37], [520, 0.41], [620, 0.36], [690, 0.39], [840, 0.37],
  [960, 0.36], [1090, 0.38], [1230, 0.36], [1410, 0.38], [1540, 0.37], [1650, 0.40], [1780, 0.36], [1920, 0.38],
  [2100, 0.37], [2300, 0.36], [2420, 0.39], [2580, 0.36], [2660, 0.38], [2870, 0.36], [3000, 0.38], [3180, 0.36],
  [3300, 0.39], [3460, 0.37], [3560, 0.36],
  [230, 0.105], [600, 0.11], [900, 0.105], [1250, 0.11], [1650, 0.105], [1980, 0.11], [2330, 0.105],
  [2650, 0.11], [3200, 0.105], [3520, 0.11],
];

// ---- process=32 ----
const p6Elapsed = [0, 60, 122, 185, 248, 311, 374, 437, 500, 565, 629, 690, 750, 815, 875, 935, 1000, 1060, 1120, 1180, 1235, 1295, 1355, 1430, 1490, 1540, 1600, 1660, 1725, 1790, 1855, 1920, 1990, 2060, 2125, 2195, 2263];
const p6WriteA = [
  0.060, 0.33, 0.79,
  0.72, 0.78, 0.68, 0.75, 0.70, 0.80, 0.67, 0.74, 0.77, 0.69,
  0.73, 0.66, 0.79, 0.71, 0.76, 0.68, 0.74, 0.70, 0.78, 0.67,
  0.75, 0.72, 0.69, 0.80, 0.66, 0.73, 0.77, 0.70, 0.74, 0.68,
  0.79, 0.71, 0.75, 0.67, 0.72, 0.78, 0.69, 0.76, 0.66, 0.73,
  0.70, 0.77, 0.68, 0.74, 0.80, 0.71, 0.67, 0.75, 0.72, 0.78,
  0.69, 0.73, 0.66, 0.76, 0.70, 0.79, 0.68, 0.74, 0.71, 0.77,
  0.67, 0.75, 0.72, 0.69, 0.78, 0.66, 0.73, 0.80, 0.70, 0.74,
  0.68, 0.76, 0.71, 0.79, 0.67, 0.73, 0.75, 0.69, 0.77, 0.72,
  0.66, 0.74, 0.70, 0.78, 0.68, 0.75, 0.71, 0.80, 0.67, 0.73,
  0.76, 0.69, 0.72, 0.77, 0.66, 0.74, 0.70, 0.79, 0.68, 0.75,
  0.71, 0.73, 0.67, 0.78, 0.69, 0.76, 0.72, 0.66, 0.74, 0.70,
  0.77, 0.68, 0.75, 0.71, 0.79, 0.67, 0.73,
];
const p6WriteB = [
  0.035, 0.23, 0.62,
  0.62, 0.58, 0.66, 0.60, 0.68, 0.57, 0.64, 0.61, 0.69, 0.59,
  0.65, 0.62, 0.58, 0.67, 0.60, 0.63, 0.69, 0.57, 0.64, 0.61,
  0.66, 0.59, 0.63, 0.68, 0.58, 0.65, 0.61, 0.67, 0.60, 0.64,
  0.57, 0.62, 0.69, 0.60, 0.66, 0.58, 0.63, 0.68, 0.61, 0.65,
  0.59, 0.67, 0.62, 0.57, 0.64, 0.69, 0.60, 0.66, 0.58, 0.63,
  0.68, 0.61, 0.65, 0.59, 0.62, 0.67, 0.57, 0.64, 0.60, 0.66,
  0.63, 0.58, 0.69, 0.61, 0.65, 0.60, 0.67, 0.62, 0.57, 0.64,
  0.66, 0.60, 0.63, 0.68, 0.59, 0.65, 0.62, 0.58, 0.67, 0.61,
  0.64, 0.69, 0.57, 0.63, 0.66, 0.60, 0.68, 0.62, 0.59, 0.65,
  0.61, 0.67, 0.63, 0.58, 0.64, 0.69, 0.60, 0.66, 0.62, 0.57,
  0.65, 0.62, 0.68, 0.59, 0.63, 0.67, 0.61, 0.58, 0.66, 0.64,
  0.60, 0.65, 0.62, 0.68, 0.59, 0.63, 0.61,
];
const p6WriteC = [
  0.030, 0.08, 0.50,
  0.52, 0.48, 0.56, 0.50, 0.54, 0.47, 0.57, 0.51, 0.55, 0.49,
  0.53, 0.58, 0.46, 0.52, 0.55, 0.50, 0.57, 0.48, 0.54, 0.51,
  0.56, 0.49, 0.53, 0.47, 0.58, 0.52, 0.50, 0.55, 0.48, 0.57,
  0.51, 0.54, 0.46, 0.56, 0.52, 0.49, 0.58, 0.53, 0.50, 0.55,
  0.47, 0.57, 0.51, 0.54, 0.48, 0.56, 0.52, 0.46, 0.55, 0.50,
  0.53, 0.49, 0.57, 0.51, 0.58, 0.47, 0.54, 0.52, 0.56, 0.48,
  0.50, 0.55, 0.52, 0.46, 0.57, 0.53, 0.49, 0.56, 0.51, 0.54,
  0.58, 0.48, 0.55, 0.50, 0.53, 0.47, 0.57, 0.52, 0.49, 0.56,
  0.51, 0.54, 0.46, 0.58, 0.50, 0.55, 0.52, 0.48, 0.57, 0.53,
  0.49, 0.56, 0.51, 0.47, 0.54, 0.58, 0.50, 0.53, 0.46, 0.55,
  0.52, 0.57, 0.49, 0.54, 0.51, 0.48, 0.56, 0.53, 0.50, 0.47,
  0.55, 0.52, 0.57, 0.49, 0.54, 0.51, 0.45,
];
const p6WriteD = [
  0.045, 0.28, 0.70,
  0.66, 0.61, 0.70, 0.64, 0.59, 0.72, 0.63, 0.68, 0.60, 0.74,
  0.65, 0.62, 0.69, 0.58, 0.67, 0.71, 0.63, 0.60, 0.73, 0.66,
  0.61, 0.69, 0.64, 0.72, 0.59, 0.67, 0.62, 0.70, 0.65, 0.60,
  0.74, 0.63, 0.68, 0.61, 0.71, 0.66, 0.58, 0.69, 0.64, 0.72,
  0.62, 0.67, 0.60, 0.73, 0.65, 0.70, 0.63, 0.59, 0.68, 0.66,
  0.71, 0.61, 0.64, 0.74, 0.62, 0.69, 0.60, 0.67, 0.65, 0.72,
  0.58, 0.66, 0.70, 0.63, 0.68, 0.61, 0.73, 0.64, 0.69, 0.60,
  0.67, 0.72, 0.62, 0.65, 0.59, 0.70, 0.66, 0.63, 0.74, 0.61,
  0.68, 0.64, 0.71, 0.60, 0.66, 0.69, 0.62, 0.73, 0.65, 0.58,
  0.70, 0.63, 0.67, 0.61, 0.72, 0.64, 0.69, 0.60, 0.66, 0.71,
  0.62, 0.68, 0.65, 0.59, 0.73, 0.63, 0.67, 0.70, 0.61, 0.64,
  0.69, 0.66, 0.60, 0.72, 0.63, 0.68, 0.62,
];
const p6WriteE = [
  0.040, 0.15, 0.55,
  0.56, 0.51, 0.59, 0.54, 0.49, 0.61, 0.53, 0.57, 0.50, 0.60,
  0.55, 0.52, 0.58, 0.48, 0.56, 0.61, 0.53, 0.50, 0.59, 0.54,
  0.51, 0.57, 0.55, 0.62, 0.49, 0.58, 0.52, 0.60, 0.54, 0.50,
  0.61, 0.53, 0.56, 0.51, 0.59, 0.55, 0.48, 0.57, 0.52, 0.60,
  0.54, 0.58, 0.50, 0.62, 0.55, 0.59, 0.53, 0.49, 0.57, 0.56,
  0.60, 0.51, 0.54, 0.61, 0.52, 0.58, 0.50, 0.56, 0.55, 0.60,
  0.48, 0.57, 0.59, 0.53, 0.58, 0.51, 0.61, 0.54, 0.57, 0.50,
  0.56, 0.60, 0.52, 0.55, 0.49, 0.59, 0.56, 0.53, 0.62, 0.51,
  0.58, 0.54, 0.60, 0.50, 0.56, 0.59, 0.52, 0.61, 0.55, 0.48,
  0.59, 0.53, 0.57, 0.51, 0.60, 0.54, 0.58, 0.50, 0.56, 0.61,
  0.52, 0.57, 0.55, 0.49, 0.60, 0.53, 0.56, 0.59, 0.51, 0.54,
  0.58, 0.56, 0.50, 0.61, 0.53, 0.57, 0.52,
];
const p6Extra = [
  [2321, 1.201], [1207, 1.140], [2311, 1.093], [2321, 1.084], [3459, 1.020], [3492, 0.987], [944, 1.020],
  [921, 1.007], [1485, 1.007], [1462, 0.977], [2331, 1.011], [2315, 0.977], [2321, 0.960],
  [92, 0.968], [49, 0.937], [108, 0.944], [174, 0.935], [754, 0.957], [813, 0.931], [839, 0.920],
  [911, 0.947], [1066, 0.920], [426, 0.924], [446, 0.953], [2184, 0.935], [2262, 0.904], [2289, 0.848],
  [2315, 0.867], [2856, 0.961], [3134, 0.918], [3174, 0.900], [2692, 0.894], [2944, 0.904],
  [295, 0.891], [387, 0.911], [534, 0.867], [764, 0.878], [879, 0.851], [1118, 0.884], [1223, 0.871],
  [1328, 0.911], [1616, 0.851], [1813, 0.864], [1961, 0.904], [2108, 0.864], [2436, 0.864], [2567, 0.891],
  [2715, 0.878], [2928, 0.871], [3092, 0.862], [3321, 0.864], [3420, 0.848],
  [1934, 0.293], [2420, 0.348], [1348, 0.363], [3534, 0.375], [3551, 0.355], [85, 0.386], [184, 0.376],
  [485, 0.403], [577, 0.403], [666, 0.410], [715, 0.422], [1452, 0.410], [1633, 0.412], [1698, 0.402],
  [1830, 0.396], [1944, 0.396], [2184, 0.399], [2551, 0.402], [2649, 0.382], [2666, 0.399], [2803, 0.386],
  [2836, 0.375], [3125, 0.396], [3354, 0.412], [3584, 0.402], [3593, 0.396], [75, 0.441],
  [5, 0.033], [8, 0.040], [12, 0.080], [15, 0.14], [18, 0.20], [20, 0.24], [22, 0.27], [25, 0.30],
  [28, 0.33], [30, 0.38], [35, 0.41], [40, 0.44],
  [150, 0.83], [600, 0.84], [1000, 0.82], [1400, 0.85], [1800, 0.83], [2200, 0.84], [2600, 0.82],
  [3000, 0.85], [3400, 0.83], [3600, 0.81], [700, 0.80],
  [120, 0.86], [260, 0.82], [350, 0.85], [480, 0.83], [620, 0.86], [800, 0.82], [900, 0.84], [1100, 0.82],
  [1250, 0.85], [1380, 0.82], [1550, 0.84], [1700, 0.82], [1900, 0.86], [2050, 0.83], [2250, 0.82], [2380, 0.85],
  [2500, 0.83], [2700, 0.84], [2850, 0.82], [3050, 0.83], [3200, 0.85], [3300, 0.82], [3500, 0.84],
  [150, 0.44], [300, 0.43], [420, 0.45], [650, 0.44], [850, 0.43], [1050, 0.45], [1200, 0.44], [1500, 0.43],
  [1750, 0.45], [2000, 0.44], [2300, 0.43], [2600, 0.45], [2900, 0.44], [3150, 0.43], [3450, 0.45], [3580, 0.44],
];

const FONT = "'DejaVu Sans Mono', 'Liberation Mono', monospace";
const LINE_RED = "#ff0000";
const POINT_PURPLE = "#c000ff";

Chart.defaults.font.family = FONT;
Chart.defaults.font.size = 10.5;
Chart.defaults.font.weight = "bold";
Chart.defaults.color = "#000";

const panels = [
  { id: "chart1", process: 1, yMax: 50, yStep: 5, y2Max: 0.03, y2Step: 0.005, leftW: 50, rightW: 73, yTitleX: 14, y2TitleX: 540,
    elapsed: p1Elapsed, write: [p1WriteA, p1WriteB, p1WriteC, p1WriteD], extra: p1Extra },
  { id: "chart2", process: 2, yMax: 120, yStep: 20, y2Max: 0.9, y2Step: 0.1, leftW: 68, rightW: 48, yTitleX: 24, y2TitleX: 551,
    elapsed: p2Elapsed, write: [p2WriteA, p2WriteB, p2WriteC], extra: p2Extra },
  { id: "chart3", process: 4, yMax: 140, yStep: 20, y2Max: 0.25, y2Step: 0.05, leftW: 57, rightW: 65, yTitleX: 14, y2TitleX: 540,
    elapsed: p3Elapsed, write: [p3WriteA, p3WriteB, p3WriteC, p3WriteD], extra: p3Extra },
  { id: "chart4", process: 8, yMax: 350, yStep: 50, y2Max: 0.3, y2Step: 0.05, leftW: 68, rightW: 54, yTitleX: 24, y2TitleX: 551,
    elapsed: p4Elapsed, write: [p4WriteA, p4WriteB, p4WriteC, p4WriteD, p4WriteE], extra: p4Extra },
  { id: "chart5", process: 16, yMax: 800, yStep: 100, y2Max: 0.6, y2Step: 0.1, leftW: 57, rightW: 59, yTitleX: 14, y2TitleX: 540,
    elapsed: p5Elapsed, write: [p5WriteA, p5WriteB, p5WriteC, p5WriteD, p5WriteE], extra: p5Extra },
  { id: "chart6", process: 32, yMax: 2500, yStep: 500, y2Max: 1.4, y2Step: 0.2, leftW: 74, rightW: 48, yTitleX: 24, y2TitleX: 551,
    elapsed: p6Elapsed, write: [p6WriteA, p6WriteB, p6WriteC, p6WriteD, p6WriteE], extra: p6Extra },
];

function plainNumber(v) {
  return String(Number(v.toFixed(4)));
}

function drawPlus(ctx, x, y, r) {
  ctx.beginPath();
  ctx.moveTo(x - r, y);
  ctx.lineTo(x + r, y);
  ctx.moveTo(x, y - r);
  ctx.lineTo(x, y + r);
  ctx.stroke();
}

function drawUpText(ctx, text, x, y) {
  ctx.save();
  ctx.translate(x, y);
  ctx.rotate(-Math.PI / 2);
  ctx.textAlign = "center";
  ctx.textBaseline = "middle";
  ctx.fillText(text, 0, 0);
  ctx.restore();
}

// gnuplot style: titles and key go under the data, frame and inward ticks on top
const gnuplotDecor = {
  id: "gnuplotDecor",
  beforeDatasetsDraw(chart, args, opts) {
    const { ctx, chartArea: a } = chart;
    const midX = (a.left + a.right) / 2;
    const midY = (a.top + a.bottom) / 2;
    ctx.save();
    ctx.font = "bold 10.5px " + FONT;
    ctx.fillStyle = "#000";
    ctx.textAlign = "center";
    ctx.textBaseline = "middle";
    ctx.fillText(opts.title, midX, 19);
    ctx.fillText("Write Count", midX, a.bottom + 28);
    drawUpText(ctx, "Elapsed Time [sec]", opts.yTitleX, midY);
    drawUpText(ctx, "Write Time [sec]", opts.y2TitleX, midY);

    // key
    const keyRight = a.right - 11;
    ctx.textAlign = "right";
    ctx.fillText(chart.data.datasets[0].label, keyRight - 37, a.top + 9);
    ctx.fillText(chart.data.datasets[1].label, keyRight - 37, a.top + 21);
    ctx.strokeStyle = LINE_RED;
    ctx.lineWidth = 3.5;
    ctx.beginPath();
    ctx.moveTo(keyRight - 31, a.top + 9);
    ctx.lineTo(keyRight, a.top + 9);
    ctx.stroke();
    ctx.strokeStyle = POINT_PURPLE;
    ctx.lineWidth = 1.2;
    drawPlus(ctx, keyRight - 15.5, a.top + 21.5, 3.5);
    ctx.restore();
  },
  afterDatasetsDraw(chart) {
    const { ctx, chartArea: a, scales } = chart;
    const tick = 5;
    const left = Math.round(a.left) + 0.5;
    const right = Math.round(a.right) + 0.5;
    const top = Math.round(a.top) + 0.5;
    const bottom = Math.round(a.bottom) + 0.5;
    ctx.save();
    ctx.strokeStyle = "#000";
    ctx.lineWidth = 1;
    ctx.beginPath();
    scales.x.ticks.forEach((t) => {
      const px = Math.round(scales.x.getPixelForValue(t.value)) + 0.5;
      ctx.moveTo(px, bottom);
      ctx.lineTo(px, bottom - tick);
      ctx.moveTo(px, top);
      ctx.lineTo(px, top + tick);
    });
    scales.y.ticks.forEach((t) => {
      const py = Math.round(scales.y.getPixelForValue(t.value)) + 0.5;
      ctx.moveTo(left, py);
      ctx.lineTo(left + tick, py);
      ctx.moveTo(right, py);
      ctx.lineTo(right - tick, py);
    });
    scales.y2.ticks.forEach((t) => {
      const py = Math.round(scales.y2.getPixelForValue(t.value)) + 0.5;
      ctx.moveTo(right, py);
      ctx.lineTo(right - tick, py);
    });
    ctx.stroke();
    ctx.strokeRect(left, top, right - left, bottom - top);
    ctx.restore();
  },
};

function writePoints(series, extra) {
  const pts = [];
  series.forEach((arr) => {
    arr.forEach((v, i) => pts.push({ x: writeCounts[i], y: v }));
  });
  extra.forEach(([x, y]) => pts.push({ x: x, y: y }));
  return pts;
}

panels.forEach((p) => {
  const ctx = document.getElementById(p.id);
  new Chart(ctx, {
    type: "scatter",
    data: {
      datasets: [
        {
          label: "Elapsed Time",
          data: elapsedCounts.map((c, i) => ({ x: c, y: p.elapsed[i] })),
          yAxisID: "y",
          showLine: true,
          borderColor: LINE_RED,
          backgroundColor: LINE_RED,
          borderWidth: 3.8,
          borderJoinStyle: "round",
          borderCapStyle: "round",
          pointRadius: 0,
          order: 1,
        },
        {
          label: "Average Write Time",
          data: writePoints(p.write, p.extra),
          yAxisID: "y2",
          pointStyle: "cross",
          pointRadius: 3.5,
          borderColor: POINT_PURPLE,
          backgroundColor: POINT_PURPLE,
          borderWidth: 1.2,
          order: 0,
        },
      ],
    },
    options: {
      responsive: false,
      animation: false,
      events: [],
      layout: { padding: { top: 36, left: 0, right: 0, bottom: 0 } },
      plugins: {
        legend: { display: false },
        tooltip: { enabled: false },
        gnuplotDecor: {
          title: `virgo : write=3600, process=${p.process}`,
          yTitleX: p.yTitleX,
          y2TitleX: p.y2TitleX,
        },
      },
      scales: {
        x: {
          type: "linear",
          min: 0,
          max: 4000,
          grid: { display: false, drawTicks: false },
          border: { display: false },
          ticks: { stepSize: 500, autoSkip: false, maxRotation: 0, padding: 6, callback: (v) => String(v) },
          afterFit: (s) => { s.height = 48; },
        },
        y: {
          type: "linear",
          position: "left",
          min: 0,
          max: p.yMax,
          grid: { display: false, drawTicks: false },
          border: { display: false },
          ticks: { stepSize: p.yStep, autoSkip: false, padding: 7, callback: plainNumber },
          afterFit: (s) => { s.width = p.leftW; },
        },
        y2: {
          type: "linear",
          position: "right",
          min: 0,
          max: p.y2Max,
          grid: { display: false, drawTicks: false },
          border: { display: false },
          ticks: { stepSize: p.y2Step, autoSkip: false, padding: 12, callback: plainNumber },
          afterFit: (s) => { s.width = p.rightW; },
        },
      },
    },
    plugins: [gnuplotDecor],
  });
});
</script>
</body>
</html>
